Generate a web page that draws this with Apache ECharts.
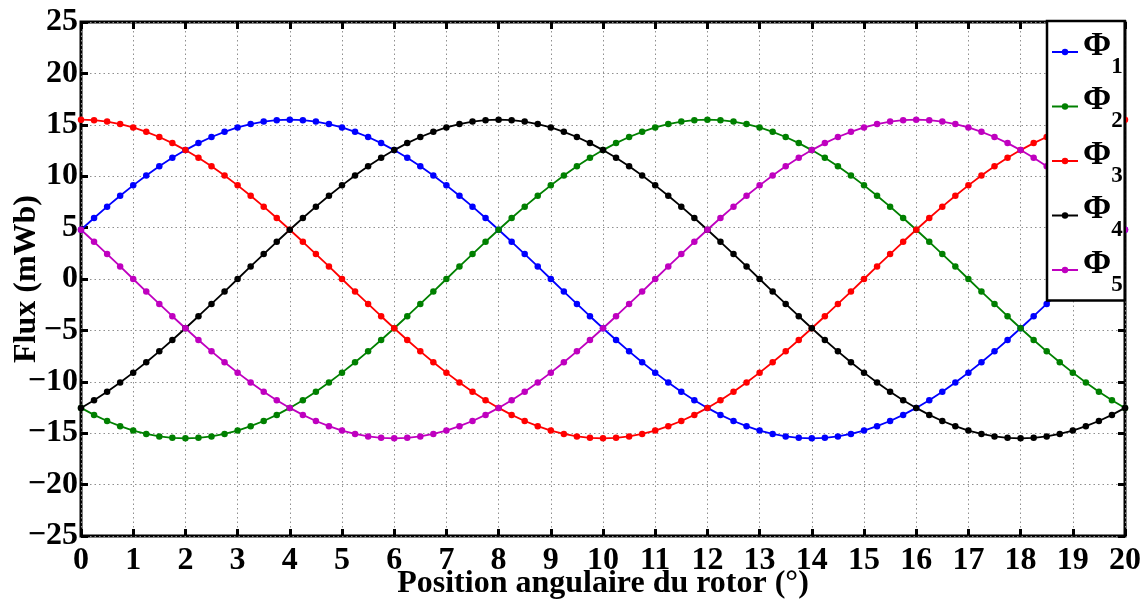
<!DOCTYPE html>
<html>
<head>
<meta charset="utf-8">
<script src="https://cdn.jsdelivr.net/npm/echarts@6/dist/echarts.min.js"></script>
<style>html,body{margin:0;padding:0;background:#fff;}#c{width:1145px;height:602px;}</style>
</head>
<body>
<div id="c"></div>
<script>
// Rotor position (degrees), sampled every 0.25°
const positions = [0,0.25,0.5,0.75,1,1.25,1.5,1.75,2,2.25,2.5,2.75,3,3.25,3.5,3.75,4,4.25,4.5,4.75,5,5.25,5.5,5.75,6,6.25,6.5,6.75,7,7.25,7.5,7.75,8,8.25,8.5,8.75,9,9.25,9.5,9.75,10,10.25,10.5,10.75,11,11.25,11.5,11.75,12,12.25,12.5,12.75,13,13.25,13.5,13.75,14,14.25,14.5,14.75,15,15.25,15.5,15.75,16,16.25,16.5,16.75,17,17.25,17.5,17.75,18,18.25,18.5,18.75,19,19.25,19.5,19.75,20];

const seriesNames = ['Φ1','Φ2','Φ3','Φ4','Φ5'];
const seriesColors = ['#0000ff','#008000','#ff0000','#000000','#bf00bf'];

const phi1 = [4.79,5.93,7.04,8.10,9.11,10.07,10.96,11.79,12.54,13.22,
13.81,14.32,14.74,15.07,15.31,15.45,15.50,15.45,15.31,15.07,
14.74,14.32,13.81,13.22,12.54,11.79,10.96,10.07,9.11,8.10,
7.04,5.93,4.79,3.62,2.42,1.22,0,-1.22,-2.42,-3.62,
-4.79,-5.93,-7.04,-8.10,-9.11,-10.07,-10.96,-11.79,-12.54,-13.22,
-13.81,-14.32,-14.74,-15.07,-15.31,-15.45,-15.50,-15.45,-15.31,-15.07,
-14.74,-14.32,-13.81,-13.22,-12.54,-11.79,-10.96,-10.07,-9.11,-8.10,
-7.04,-5.93,-4.79,-3.62,-2.42,-1.22,0,1.22,2.42,3.62,
4.79];

const phi2 = [-12.54,-13.22,-13.81,-14.32,-14.74,-15.07,-15.31,-15.45,-15.50,-15.45,
-15.31,-15.07,-14.74,-14.32,-13.81,-13.22,-12.54,-11.79,-10.96,-10.07,
-9.11,-8.10,-7.04,-5.93,-4.79,-3.62,-2.42,-1.22,0,1.22,
2.42,3.62,4.79,5.93,7.04,8.10,9.11,10.07,10.96,11.79,
12.54,13.22,13.81,14.32,14.74,15.07,15.31,15.45,15.50,15.45,
15.31,15.07,14.74,14.32,13.81,13.22,12.54,11.79,10.96,10.07,
9.11,8.10,7.04,5.93,4.79,3.62,2.42,1.22,0,-1.22,
-2.42,-3.62,-4.79,-5.93,-7.04,-8.10,-9.11,-10.07,-10.96,-11.79,
-12.54];

const phi3 = [15.50,15.45,15.31,15.07,14.74,14.32,13.81,13.22,12.54,11.79,
10.96,10.07,9.11,8.10,7.04,5.93,4.79,3.62,2.42,1.22,
0,-1.22,-2.42,-3.62,-4.79,-5.93,-7.04,-8.10,-9.11,-10.07,
-10.96,-11.79,-12.54,-13.22,-13.81,-14.32,-14.74,-15.07,-15.31,-15.45,
-15.50,-15.45,-15.31,-15.07,-14.74,-14.32,-13.81,-13.22,-12.54,-11.79,
-10.96,-10.07,-9.11,-8.10,-7.04,-5.93,-4.79,-3.62,-2.42,-1.22,
0,1.22,2.42,3.62,4.79,5.93,7.04,8.10,9.11,10.07,
10.96,11.79,12.54,13.22,13.81,14.32,14.74,15.07,15.31,15.45,
15.50];

const phi4 = [-12.54,-11.79,-10.96,-10.07,-9.11,-8.10,-7.04,-5.93,-4.79,-3.62,
-2.42,-1.22,0,1.22,2.42,3.62,4.79,5.93,7.04,8.10,
9.11,10.07,10.96,11.79,12.54,13.22,13.81,14.32,14.74,15.07,
15.31,15.45,15.50,15.45,15.31,15.07,14.74,14.32,13.81,13.22,
12.54,11.79,10.96,10.07,9.11,8.10,7.04,5.93,4.79,3.62,
2.42,1.22,0,-1.22,-2.42,-3.62,-4.79,-5.93,-7.04,-8.10,
-9.11,-10.07,-10.96,-11.79,-12.54,-13.22,-13.81,-14.32,-14.74,-15.07,
-15.31,-15.45,-15.50,-15.45,-15.31,-15.07,-14.74,-14.32,-13.81,-13.22,
-12.54];

const phi5 = [4.79,3.62,2.42,1.22,0,-1.22,-2.42,-3.62,-4.79,-5.93,
-7.04,-8.10,-9.11,-10.07,-10.96,-11.79,-12.54,-13.22,-13.81,-14.32,
-14.74,-15.07,-15.31,-15.45,-15.50,-15.45,-15.31,-15.07,-14.74,-14.32,
-13.81,-13.22,-12.54,-11.79,-10.96,-10.07,-9.11,-8.10,-7.04,-5.93,
-4.79,-3.62,-2.42,-1.22,0,1.22,2.42,3.62,4.79,5.93,
7.04,8.10,9.11,10.07,10.96,11.79,12.54,13.22,13.81,14.32,
14.74,15.07,15.31,15.45,15.50,15.45,15.31,15.07,14.74,14.32,
13.81,13.22,12.54,11.79,10.96,10.07,9.11,8.10,7.04,5.93,
4.79];

const xTitle = 'Position angulaire du rotor (°)';
const yTitle = 'Flux (mWb)';

const allValues = [phi1, phi2, phi3, phi4, phi5];
const FONT = '"Liberation Serif", "Times New Roman", serif';

const chart = echarts.init(document.getElementById('c'), null, {renderer: 'canvas'});

const series = seriesNames.map((name, i) => ({
  name: name,
  type: 'line',
  data: positions.map((x, j) => [x, allValues[i][j]]),
  symbol: 'circle',
  symbolSize: 6.5,
  showSymbol: true,
  lineStyle: {width: 1.8, color: seriesColors[i]},
  itemStyle: {color: seriesColors[i]},
  clip: true,
  animation: false
}));

const tickStyle = {show: true, inside: true, length: 7, lineStyle: {color: '#000', width: 3}};
const gridLine = {show: true, lineStyle: {color: '#8f8f8f', width: 1, type: [1.5, 3]}};
const noLine = {show: false, onZero: false};

chart.setOption({
  animation: false,
  backgroundColor: '#fff',
  grid: {left: 81, right: 20, top: 22, bottom: 66, show: true, borderColor: '#000', borderWidth: 3,
    containLabel: false, outerBoundsMode: 'none'},
  legend: {
    orient: 'vertical',
    left: 1047,
    top: 21,
    backgroundColor: '#fff',
    borderColor: '#000',
    borderWidth: 2.5,
    borderRadius: 0,
    padding: [8, 2, 4, 4],
    itemGap: 5,
    itemWidth: 26,
    itemHeight: 8,
    data: seriesNames,
    formatter: function (name) {
      return '{a|Φ}{b|' + name.slice(1) + '}';
    },
    textStyle: {
      rich: {
        a: {fontFamily: FONT, fontSize: 34, fontWeight: 'bold', color: '#000', padding: [0, 0, 12, 0]},
        b: {fontFamily: FONT, fontSize: 23, fontWeight: 'bold', color: '#000', padding: [30, 0, 0, 0]}
      }
    }
  },
  xAxis: [{
    type: 'value', min: 0, max: 20, interval: 1, position: 'bottom',
    name: xTitle, nameLocation: 'middle', nameGap: 32, nameMoveOverlap: false,
    nameTextStyle: {fontFamily: FONT, fontSize: 32, fontWeight: 'bold', color: '#000'},
    axisLine: noLine,
    axisTick: tickStyle,
    axisLabel: {fontFamily: FONT, fontSize: 32, fontWeight: 'bold', color: '#000', margin: 9},
    splitLine: gridLine
  }, {
    type: 'value', min: 0, max: 20, interval: 1, position: 'top',
    axisLine: noLine, axisTick: tickStyle, axisLabel: {show: false}, splitLine: {show: false}
  }],
  yAxis: [{
    type: 'value', min: -25, max: 25, interval: 5, position: 'left',
    name: yTitle, nameLocation: 'middle', nameGap: 38, nameMoveOverlap: false,
    nameTextStyle: {fontFamily: FONT, fontSize: 32, fontWeight: 'bold', color: '#000'},
    axisLine: noLine,
    axisTick: tickStyle,
    axisLabel: {fontFamily: FONT, fontSize: 32, fontWeight: 'bold', color: '#000', margin: 3,
      formatter: v => (v < 0 ? '\u2212' + Math.abs(v) : String(v))},
    splitLine: gridLine
  }, {
    type: 'value', min: -25, max: 25, interval: 5, position: 'right',
    axisLine: noLine, axisTick: tickStyle, axisLabel: {show: false}, splitLine: {show: false}
  }],
  series: series
});
</script>
</body>
</html>
